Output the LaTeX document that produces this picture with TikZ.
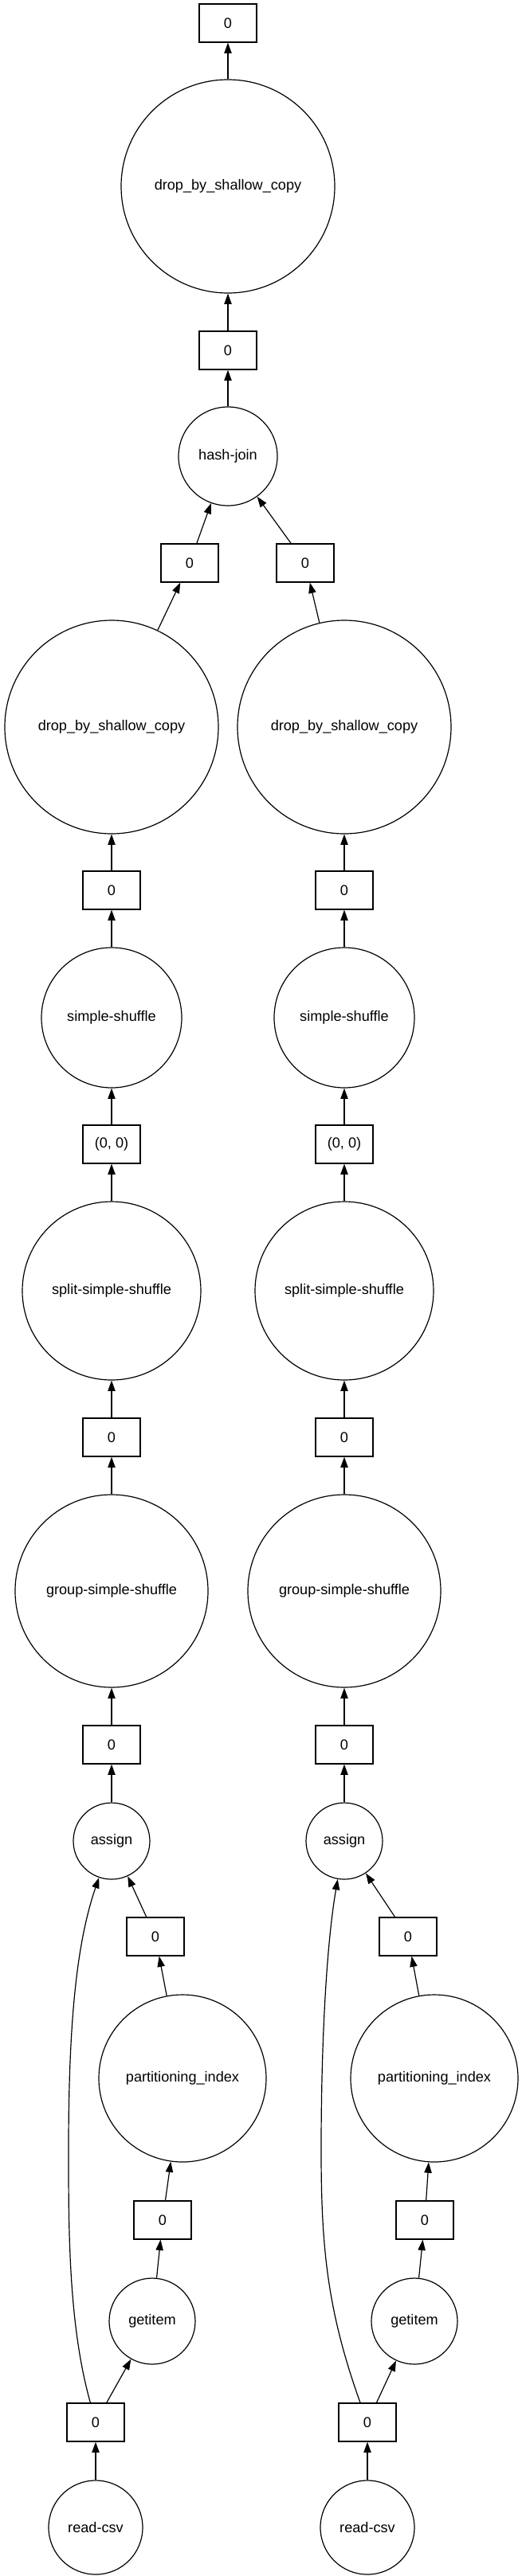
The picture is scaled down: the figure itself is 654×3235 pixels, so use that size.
\documentclass[tikz,border=0pt]{standalone}
\usepackage{fontspec}
\setmainfont{Liberation Sans}
\usetikzlibrary{arrows.meta}

\begin{document}
\begin{tikzpicture}[x = 0.75pt, y = -0.75pt,
		font = \fontsize{13.6pt}{16pt}\selectfont,
		keybox/.style = {draw, rectangle, line width = \mylinewidth, minimum width = 54pt, minimum height = 36pt, inner sep = 0pt},
		taskcirc/.style = {draw, circle, line width = \mylinewidth, minimum size = #1, inner sep = 0pt},
		dep/.style = {line width = \mylinewidth, -{Triangle[length = 10pt, width = 7pt]}}]
		\def\mylinewidth{0.9pt}
		\useasboundingbox (0,0) rectangle (654,3235);
		%--------------------

		\node[keybox] (out) at (286, 29) {0};
		\node[taskcirc = 201pt] (dropout) at (286, 234) {drop\_by\_shallow\_copy};
		\node[keybox] (joinkey) at (286, 440) {0};
		\node[taskcirc = 93pt] (join) at (286, 573) {hash-join};
		\node[keybox] (lkeya) at (238, 707) {0};
		\node[keybox] (rkeya) at (383, 707) {0};

		\draw[dep] (dropout) -- (out);
		\draw[dep] (joinkey) -- (dropout);
		\draw[dep] (join) -- (joinkey);
		\draw[dep] (lkeya) -- (join);
		\draw[dep] (rkeya) -- (join);

		%--------------------
		\node[taskcirc = 201pt] (ldrop) at (140, 913) {drop\_by\_shallow\_copy};
		\node[keybox] (lkeyb) at (140, 1118) {0};
		\node[taskcirc = 132pt] (lshuf) at (140, 1278) {simple-shuffle};
		\node[keybox] (lkeyc) at (140, 1437) {(0, 0)};
		\node[taskcirc = 168pt] (lsplit) at (140, 1621) {split-simple-shuffle};
		\node[keybox] (lkeyd) at (140, 1805) {0};
		\node[taskcirc = 181.5pt] (lgroup) at (140, 1998) {group-simple-shuffle};
		\node[keybox] (lkeye) at (140, 2191) {0};
		\node[taskcirc = 72pt] (lassign) at (140, 2312) {assign};
		\node[keybox] (lkeyf) at (195, 2432) {0};
		\node[taskcirc = 157.5pt] (lpart) at (229, 2610) {partitioning\_index};
		\node[keybox] (lkeyg) at (204, 2788) {0};
		\node[taskcirc = 81pt] (lget) at (191, 2915) {getitem};
		\node[keybox] (lkeyh) at (120, 3042) {0};
		\node[taskcirc = 88.5pt] (lread) at (120, 3174) {read-csv};

		\draw[dep] (ldrop) -- (lkeya);
		\draw[dep] (lkeyb) -- (ldrop);
		\draw[dep] (lshuf) -- (lkeyb);
		\draw[dep] (lkeyc) -- (lshuf);
		\draw[dep] (lsplit) -- (lkeyc);
		\draw[dep] (lkeyd) -- (lsplit);
		\draw[dep] (lgroup) -- (lkeyd);
		\draw[dep] (lkeye) -- (lgroup);
		\draw[dep] (lassign) -- (lkeye);
		\draw[dep] (lkeyf) -- (lassign);
		\draw[dep] (lpart) -- (lkeyf);
		\draw[dep] (lkeyg) -- (lpart);
		\draw[dep] (lget) -- (lkeyg);
		\draw[dep] (lkeyh) -- (lget);
		\draw[dep] (lread) -- (lkeyh);
		\draw[dep] (lkeyh.105) .. controls (86, 2920) and (86, 2800) .. (86, 2700)
			.. controls (86, 2540) and (96, 2440) .. (lassign);

		%--------------------
		\node[taskcirc = 201pt] (rdrop) at (432, 913) {drop\_by\_shallow\_copy};
		\node[keybox] (rkeyb) at (432, 1118) {0};
		\node[taskcirc = 132pt] (rshuf) at (432, 1278) {simple-shuffle};
		\node[keybox] (rkeyc) at (432, 1437) {(0, 0)};
		\node[taskcirc = 168pt] (rsplit) at (432, 1621) {split-simple-shuffle};
		\node[keybox] (rkeyd) at (432, 1805) {0};
		\node[taskcirc = 181.5pt] (rgroup) at (432, 1998) {group-simple-shuffle};
		\node[keybox] (rkeye) at (432, 2191) {0};
		\node[taskcirc = 72pt] (rassign) at (432, 2312) {assign};
		\node[keybox] (rkeyf) at (512, 2432) {0};
		\node[taskcirc = 157.5pt] (rpart) at (545, 2610) {partitioning\_index};
		\node[keybox] (rkeyg) at (533, 2788) {0};
		\node[taskcirc = 81pt] (rget) at (520, 2915) {getitem};
		\node[keybox] (rkeyh) at (461, 3042) {0};
		\node[taskcirc = 88.5pt] (rread) at (461, 3174) {read-csv};

		\draw[dep] (rdrop) -- (rkeya);
		\draw[dep] (rkeyb) -- (rdrop);
		\draw[dep] (rshuf) -- (rkeyb);
		\draw[dep] (rkeyc) -- (rshuf);
		\draw[dep] (rsplit) -- (rkeyc);
		\draw[dep] (rkeyd) -- (rsplit);
		\draw[dep] (rgroup) -- (rkeyd);
		\draw[dep] (rkeye) -- (rgroup);
		\draw[dep] (rassign) -- (rkeye);
		\draw[dep] (rkeyf) -- (rassign);
		\draw[dep] (rpart) -- (rkeyf);
		\draw[dep] (rkeyg) -- (rpart);
		\draw[dep] (rget) -- (rkeyg);
		\draw[dep] (rkeyh) -- (rget);
		\draw[dep] (rread) -- (rkeyh);
		\draw[dep] (rkeyh.110) .. controls (410, 2900) and (403, 2820) .. (403, 2700)
			.. controls (403, 2560) and (410, 2440) .. (rassign);
\end{tikzpicture}
\end{document}
